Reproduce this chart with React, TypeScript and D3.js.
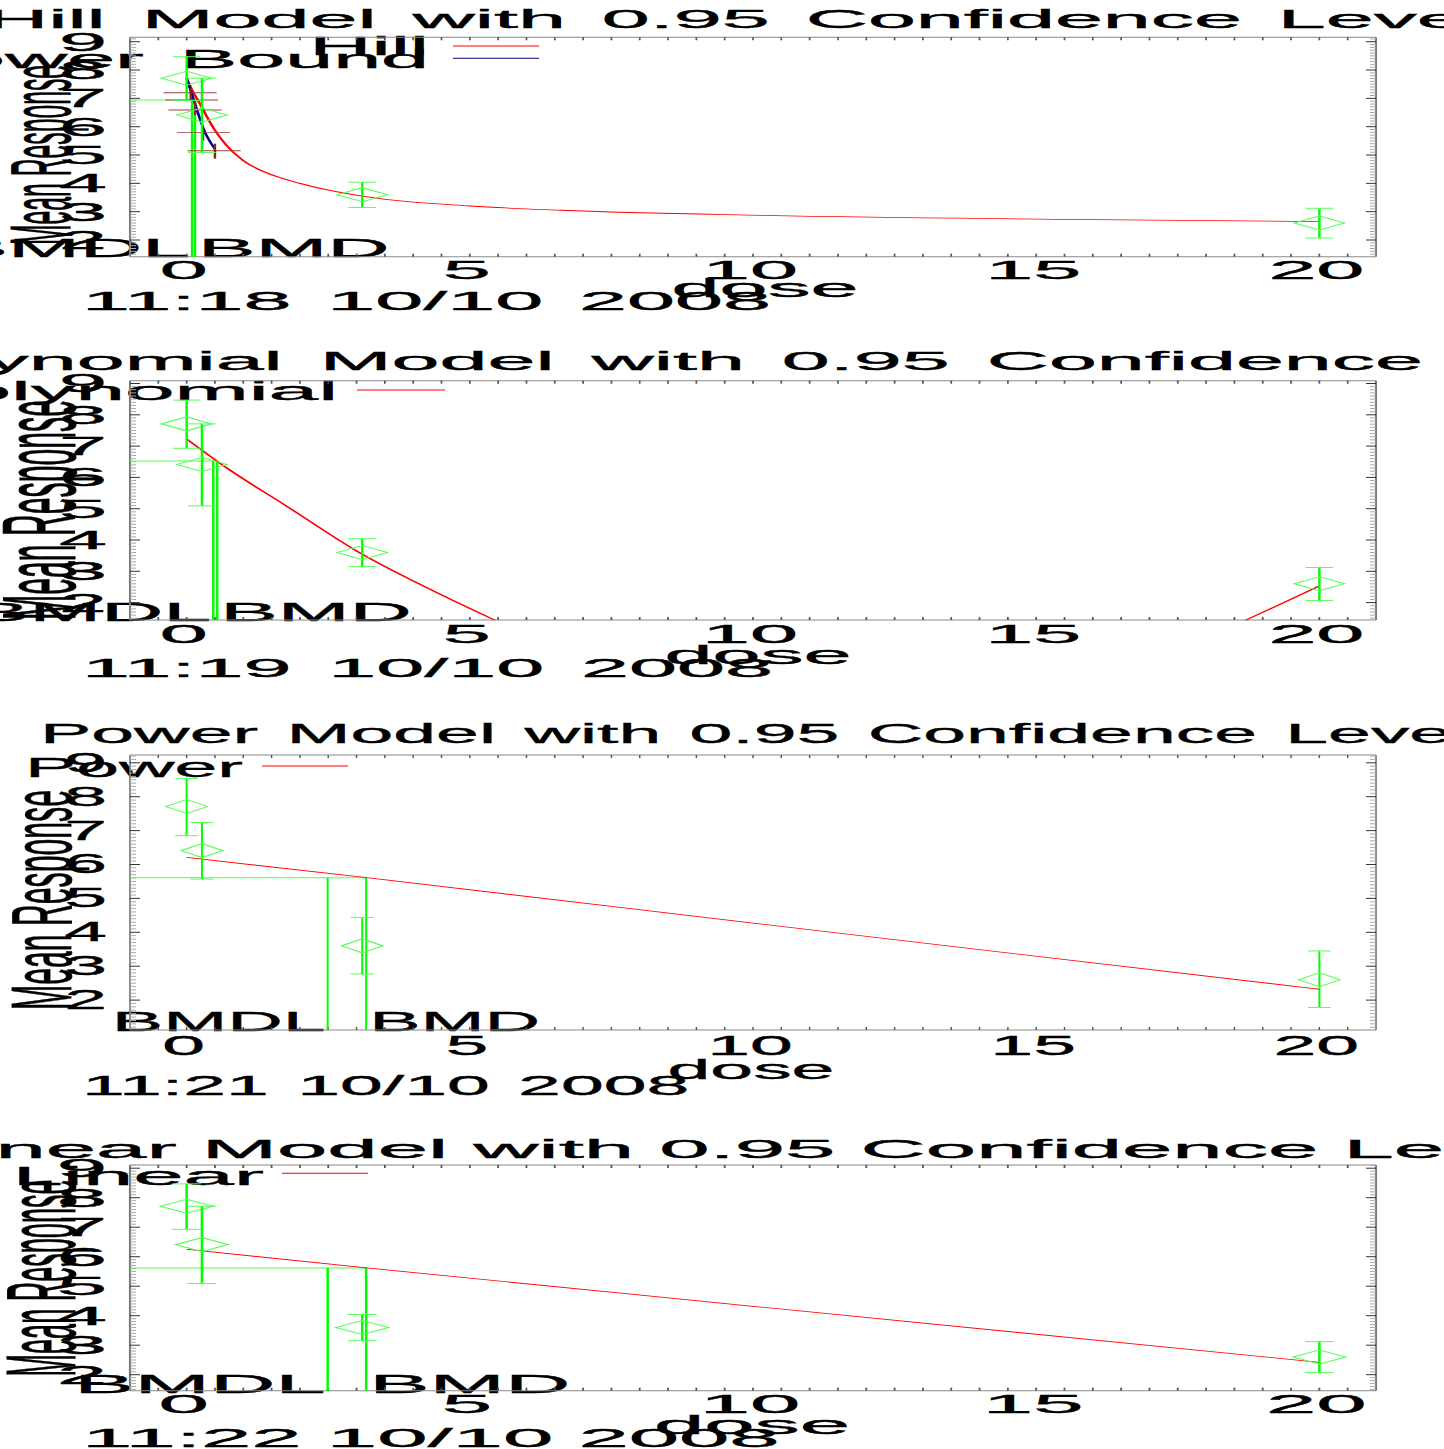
import React from "react";
import * as d3 from "d3";

type Pt = [number, number];

// ---------------- data ----------------
const doses = [0, 0.27, 3.1, 20];
const meanResp = [7.71, 6.41, 3.6, 2.6];
const upperCL = [8.47, 7.71, 4.04, 3.12];
const lowerCL = [6.93, 5.09, 3.15, 2.07];
const upperCLPower = [8.54, 7.24, 4.44, 3.45];
const lowerCLPower = [6.85, 5.57, 2.77, 1.78];

const hillFit: Pt[] = [
  [0, 7.71], [0.11, 7.24], [0.23, 6.83], [0.35, 6.38], [0.49, 5.9], [0.7, 5.35],
  [1.0, 4.8], [1.4, 4.38], [2.0, 4.0], [3.1, 3.55], [5, 3.2], [6.6, 3.05],
  [10.2, 2.87], [16, 2.72], [20, 2.65],
];
const hillLowerBound: Pt[] = [[0, 7.71], [0.136, 6.88], [0.307, 5.88], [0.5, 5.21]];
const hillBarCenters: Pt[] = [[0.06, 7.2], [0.087, 6.94], [0.148, 6.59], [0.298, 5.8], [0.484, 5.15]];
const hillBarTicks: [number, number, number][] = [
  [0.072, 7.37, 6.94], [0.148, 6.94, 6.41], [0.29, 5.86, 5.5], [0.5, 5.4, 4.87],
];
const polyFitFirst: Pt[] = [[0, 7.23], [0.71, 6.3], [1.75, 5.1], [3.0, 3.65], [4.27, 2.45], [5.44, 1.44]];
const polyFitLast: Pt[] = [[18.7, 1.44], [20, 2.53]];
const powerFit: Pt[] = [[0, 6.21], [3.18, 5.61], [10, 4.27], [20, 2.32]];
const linearFit: Pt[] = [[0, 6.25], [3.18, 5.62], [10, 4.32], [20, 2.42]];

const bmdlDose = [0.095, 0.47, 2.49, 2.49];
const bmdDose = [0.148, 0.54, 3.17, 3.17];
const bmrResp = [6.94, 6.52, 5.61, 5.62];

const xTickVals = [0, 5, 10, 15, 20];
const yTickVals = [2, 3, 4, 5, 6, 7, 8, 9];
const modelNames = ["Hill", "Polynomial", "Power", "Linear"];
const stamps = ["11:18 10/10 2008", "11:19 10/10 2008", "11:21 10/10 2008", "11:22 10/10 2008"];

// ---------------- layout ----------------
const FONT = "'Liberation Sans', Arial, Helvetica, sans-serif";
const RED = "#ff0000";
const GREEN = "#00ff00";
const LGREEN = "#55ff55";

interface Panel {
  clipTop: number; clipBottom: number;
  top: number; bottom: number; y9: number; y2: number;
  sx: number; fs: number; ws: number;
  titleX: number; titleY: number;
  legendEnd: number; lineX: [number, number];
  legend: { label: string; y: number; lineY: number; color: string; len?: number }[];
  labelY: number; tickY: number; doseX: number; doseY: number; stampY: number;
  ylabX: number; ylabCy: number; ylabLen: number;
  upper: number[]; lower: number[];
  fits: { pts: Pt[]; color: string }[];
}

const panels: Panel[] = [
  {
    clipTop: 0, clipBottom: 312, top: 37.3, bottom: 256.7, y9: 41.7, y2: 240,
    sx: 3.45, fs: 25, ws: 12, titleX: -14, titleY: 28, legendEnd: 429, lineX: [453, 539],
    legend: [
      { label: "Hill", y: 55, lineY: 46, color: RED },
      { label: "Lower Bound", y: 68, lineY: 58.3, color: "#000090", len: 520 },
    ],
    labelY: 257, tickY: 279, doseX: 765, doseY: 297, stampY: 310,
    ylabX: 70, ylabCy: 155, ylabLen: 180,
    upper: upperCL, lower: lowerCL,
    fits: [{ pts: hillFit, color: RED }, { pts: hillLowerBound, color: "#000090" }],
  },
  {
    clipTop: 312, clipBottom: 678, top: 380.7, bottom: 620, y9: 383.5, y2: 602.6,
    sx: 3.45, fs: 25, ws: 13, titleX: -139, titleY: 370, legendEnd: 338, lineX: [357, 445],
    legend: [{ label: "Polynomial", y: 400, lineY: 390, color: RED, len: 436 }],
    labelY: 621, tickY: 643, doseX: 758, doseY: 664, stampY: 677,
    ylabX: 75, ylabCy: 510, ylabLen: 220,
    upper: upperCL, lower: lowerCL,
    fits: [{ pts: polyFitFirst, color: RED }, { pts: polyFitLast, color: RED }],
  },
  {
    clipTop: 678, clipBottom: 1098, top: 755, bottom: 1030, y9: 762.8, y2: 1000.1,
    sx: 2.85, fs: 27, ws: 7, titleX: 40, titleY: 743, legendEnd: 243, lineX: [262, 348],
    legend: [{ label: "Power", y: 777, lineY: 766, color: RED }],
    labelY: 1031, tickY: 1055, doseX: 751, doseY: 1079, stampY: 1095,
    ylabX: 71, ylabCy: 900, ylabLen: 220,
    upper: upperCLPower, lower: lowerCLPower,
    fits: [{ pts: powerFit, color: RED }],
  },
  {
    clipTop: 1098, clipBottom: 1449, top: 1165, bottom: 1390.7, y9: 1168.2, y2: 1374.7,
    sx: 3.62, fs: 25, ws: 0, titleX: -75, titleY: 1158, legendEnd: 264, lineX: [282, 368],
    legend: [{ label: "Linear", y: 1185, lineY: 1173.3, color: RED }],
    labelY: 1393, tickY: 1413, doseX: 752, doseY: 1434, stampY: 1447,
    ylabX: 75, ylabCy: 1278, ylabLen: 197,
    upper: upperCL, lower: lowerCL,
    fits: [{ pts: linearFit, color: RED }],
  },
];

const X0 = 130;
const X1 = 1376;

function PanelView({ p, i }: { p: Panel; i: number }) {
  const sx = p.sx;
  const xs = d3.scaleLinear().domain([-1, 21]).range([X0 / sx, X1 / sx]);
  const ys = d3.scaleLinear().domain([2, 9]).range([p.y2, p.y9]);
  const PX = (px: number) => px / sx;
  const line = d3.line<Pt>().x((d) => xs(d[0])).y((d) => ys(d[1])).curve(d3.curveMonotoneX);
  const vMin = ys.invert(p.bottom);
  const vMax = ys.invert(p.top);
  const minor: number[] = d3.range(Math.ceil(vMin * 10), Math.floor(vMax * 10) + 1).map((k) => k / 10);
  const xMinor = d3.range(-2, 43).map((k) => k / 2);
  const title = `${modelNames[i]} Model with 0.95 Confidence Level`;
  const txt = (props: any, s: string) => (
    <text
      fontFamily={FONT}
      fontSize={p.fs}
      fill="#000"
      stroke="#000"
      strokeWidth={0.35}
      style={{ wordSpacing: `${PX(p.ws)}px` }}
      {...props}
    >
      {s}
    </text>
  );
  const ylabFs = p.ylabLen / 7.28;

  return (
    <g clipPath={`url(#clip${i})`}>
      <g transform={`scale(${sx},1)`}>
        {/* texts */}
        {txt({ x: PX(p.titleX), y: p.titleY }, title)}
        {p.legend.map((l, k) => (
          <g key={k}>
            {txt(
              l.len
                ? { x: PX(p.legendEnd), y: l.y, textAnchor: "end", textLength: PX(l.len), lengthAdjust: "spacingAndGlyphs" }
                : { x: PX(p.legendEnd), y: l.y, textAnchor: "end" },
              l.label
            )}
          </g>
        ))}
        {yTickVals.map((v) => (
          <g key={v}>{txt({ x: PX(107), y: ys(v) + 9, textAnchor: "end" }, String(v))}</g>
        ))}
        <text
          fontFamily={FONT}
          fontSize={ylabFs}
          textAnchor="middle"
          stroke="#000"
          strokeWidth={0.3}
          transform={`translate(${PX(p.ylabX)},${p.ylabCy}) rotate(-90)`}
          textLength={p.ylabLen}
          lengthAdjust="spacingAndGlyphs"
        >
          Mean Response
        </text>
        {txt({ x: xs(bmdlDose[i]) - PX(2), y: p.labelY, textAnchor: "end" }, "BMDL")}
        {txt({ x: xs(bmdDose[i]) + PX(3), y: p.labelY }, "BMD")}
        {xTickVals.map((v) => (
          <g key={v}>{txt({ x: xs(v) - PX(3), y: p.tickY, textAnchor: "middle" }, String(v))}</g>
        ))}
        {txt({ x: PX(p.doseX), y: p.doseY, textAnchor: "middle" }, "dose")}
        {txt({ x: PX(82), y: p.stampY }, stamps[i])}

        {/* axes box */}
        <line x1={PX(X0)} x2={PX(X1)} y1={p.top} y2={p.top} stroke="#8a8a8a" strokeWidth={1} />
        <line x1={PX(X0)} x2={PX(X1)} y1={p.bottom} y2={p.bottom} stroke="#8a8a8a" strokeWidth={1} />
        <line x1={PX(X0)} x2={PX(X0)} y1={p.top} y2={p.bottom} stroke="#7a7a7a" strokeWidth={0.6} />
        <line x1={PX(X1)} x2={PX(X1)} y1={p.top} y2={p.bottom} stroke="#7a7a7a" strokeWidth={0.6} />
        {xMinor.filter((v) => v > -1 && v < 21).map((v) => (
          <g key={v}>
            <line x1={xs(v)} x2={xs(v)} y1={p.top} y2={p.top + 3} stroke="#555" strokeWidth={0.5} />
            <line x1={xs(v)} x2={xs(v)} y1={p.bottom} y2={p.bottom - 3} stroke="#555" strokeWidth={0.5} />
          </g>
        ))}
        {minor.map((v) => {
          const major = Math.abs(v - Math.round(v)) < 1e-6;
          const len = major ? 10 : 6;
          const c = major ? "#333" : "#aaa";
          return (
            <g key={v}>
              <line x1={PX(X0)} x2={PX(X0 + len)} y1={ys(v)} y2={ys(v)} stroke={c} strokeWidth={1} />
              <line x1={PX(X1)} x2={PX(X1 - len)} y1={ys(v)} y2={ys(v)} stroke={c} strokeWidth={1} />
            </g>
          );
        })}

        {/* legend lines */}
        {p.legend.map((l, k) => (
          <line key={k} x1={PX(p.lineX[0])} x2={PX(p.lineX[1])} y1={l.lineY} y2={l.lineY} stroke={l.color} strokeWidth={1} />
        ))}

        {/* BMD / BMDL lines */}
        <line x1={PX(X0)} x2={xs(bmdDose[i])} y1={ys(bmrResp[i])} y2={ys(bmrResp[i])} stroke={LGREEN} strokeWidth={1} />
        <line x1={xs(bmdlDose[i])} x2={xs(bmdlDose[i])} y1={ys(bmrResp[i])} y2={p.bottom} stroke={GREEN} strokeWidth={0.7} />
        <line x1={xs(bmdDose[i])} x2={xs(bmdDose[i])} y1={ys(bmrResp[i])} y2={p.bottom} stroke={GREEN} strokeWidth={0.7} />

        {/* fitted curves */}
        {p.fits.map((f, k) => (
          <path key={k} d={line(f.pts) || ""} fill="none" stroke={f.color} strokeWidth={0.8} />
        ))}

        {/* hill lower-bound markers */}
        {i === 0 && hillBarCenters.map((c, k) => (
          <line key={"h" + k} x1={xs(c[0] - 0.47)} x2={xs(c[0] + 0.47)} y1={ys(c[1])} y2={ys(c[1])} stroke="#a04040" strokeWidth={0.9} />
        ))}
        {i === 0 && hillBarTicks.map((c, k) => (
          <line key={"v" + k} x1={xs(c[0])} x2={xs(c[0])} y1={ys(c[1])} y2={ys(c[2])} stroke="#8b2020" strokeWidth={0.7} />
        ))}

        {/* data: error bars and diamonds */}
        {doses.map((d, k) => {
          const cx = xs(d);
          const cy = ys(meanResp[k]);
          const yu = ys(p.upper[k]);
          const yl = ys(p.lower[k]);
          return (
            <g key={k}>
              <line x1={cx} x2={cx} y1={yu} y2={yl} stroke={GREEN} strokeWidth={0.7} />
              <line x1={cx - 4} x2={cx + 4} y1={yu} y2={yu} stroke={LGREEN} strokeWidth={1} />
              <line x1={cx - 4} x2={cx + 4} y1={yl} y2={yl} stroke={LGREEN} strokeWidth={1} />
              <path
                d={`M${cx - 7.3},${cy}L${cx},${cy - 7}L${cx + 7.3},${cy}L${cx},${cy + 7}Z`}
                fill="none"
                stroke={LGREEN}
                strokeWidth={0.8}
              />
            </g>
          );
        })}
      </g>
    </g>
  );
}

export default function App() {
  return (
    <svg
      width={1444}
      height={1449}
      viewBox="0 0 1444 1449"
      style={{ position: "absolute", left: 0, top: 0, display: "block", background: "#fff" }}
    >
      <rect x={0} y={0} width={1444} height={1449} fill="#fff" />
      <defs>
        {panels.map((p, i) => (
          <clipPath id={`clip${i}`} key={i}>
            <rect x={0} y={p.clipTop} width={1444} height={p.clipBottom - p.clipTop} />
          </clipPath>
        ))}
      </defs>
      {panels.map((p, i) => (
        <PanelView key={i} p={p} i={i} />
      ))}
    </svg>
  );
}
